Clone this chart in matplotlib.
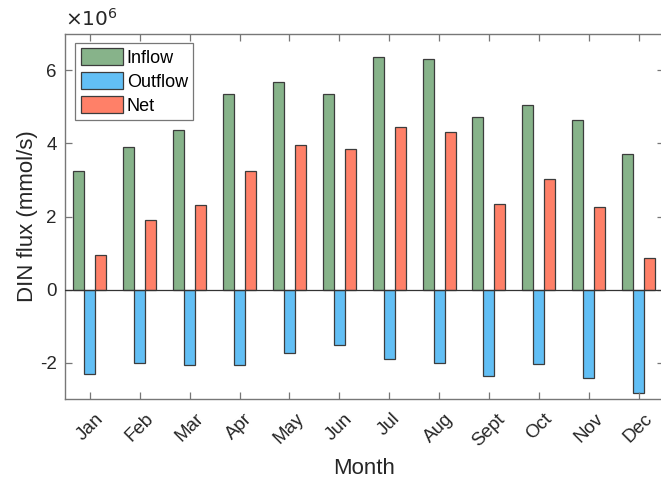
import numpy as np
import matplotlib
matplotlib.use("Agg")
import matplotlib.pyplot as plt

plt.rcParams['font.family'] = ['Liberation Sans', 'DejaVu Sans']

months = ['Jan', 'Feb', 'Mar', 'Apr', 'May', 'Jun',
          'Jul', 'Aug', 'Sept', 'Oct', 'Nov', 'Dec']
# monthly DIN fluxes, in units of 1e6 mmol/s
inflow = [3.25, 3.91, 4.36, 5.34, 5.69, 5.35, 6.35, 6.32, 4.71, 5.05, 4.65, 3.71]
outflow = [-2.32, -2.00, -2.05, -2.07, -1.73, -1.52, -1.91, -2.00, -2.37, -2.03, -2.41, -2.83]
net = [0.95, 1.91, 2.32, 3.25, 3.96, 3.85, 4.44, 4.32, 2.35, 3.03, 2.25, 0.86]

scale = 1e6
x = np.arange(1, len(months) + 1)
w = 0.22

fig = plt.figure(figsize=(6.61, 4.88), dpi=100)
ax = fig.add_axes([65 / 661, 1 - 399.3 / 488, (663.5 - 65) / 661, (399.3 - 33.7) / 488])

edge = '#3c3c3c'
ax.bar(x - w, np.array(inflow) * scale, w, color='#87b38a', edgecolor=edge, linewidth=0.9, label='Inflow')
ax.bar(x, np.array(outflow) * scale, w, color='#62bff5', edgecolor=edge, linewidth=0.9, label='Outflow')
ax.bar(x + w, np.array(net) * scale, w, color='#ff8068', edgecolor=edge, linewidth=0.9, label='Net')
ax.axhline(0, color='#333333', linewidth=0.9, zorder=3)

ax.set_xlim(0.5, 12.5)
ax.set_ylim(-3e6, 7e6)
ax.set_xticks(x)
ax.set_xticklabels(months, rotation=45, ha='center', fontsize=13.5, color='#262626')
ax.set_yticks([-2e6, 0, 2e6, 4e6, 6e6])
ax.set_yticklabels(['-2', '0', '2', '4', '6'], fontsize=13.5, color='#262626')
ax.tick_params(direction='in', top=True, right=True, length=5, width=0.9, color='#777777')
ax.tick_params(axis='x', pad=8)
ax.tick_params(axis='y', pad=6)
for s in ax.spines.values():
    s.set_color('#777777')
    s.set_linewidth(1.0)

ax.text(0.0, 1.012, r'$\times 10^{6}$', transform=ax.transAxes, fontsize=14.5,
        color='#262626', ha='left', va='bottom', math_fontfamily='dejavusans')

ax.set_xlabel('Month', fontsize=16, color='#262626', labelpad=6)
ax.set_ylabel('DIN flux (mmol/s)', fontsize=16, color='#262626', labelpad=1)

leg = ax.legend(loc='upper left', bbox_to_anchor=(0.017, 0.975), fontsize=13,
                handlelength=2.35, handleheight=1.05, handletextpad=0.2,
                labelspacing=0.3, borderpad=0.3, borderaxespad=0.0,
                fancybox=False, framealpha=1)
leg.get_frame().set_edgecolor('#777777')
leg.get_frame().set_linewidth(0.9)

fig.savefig('out.png', dpi=100)
